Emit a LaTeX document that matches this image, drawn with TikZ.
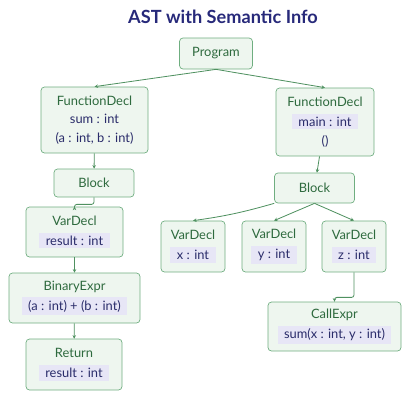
\documentclass[tikz,border=0pt]{standalone}
\usepackage{fontspec}
\setmainfont{Lato}
\usepackage{xcolor}
\usepackage{tikz}
\usetikzlibrary{positioning,arrows.meta}

\definecolor{boxfill}{HTML}{EEF6EF}
\definecolor{boxline}{HTML}{6FAE80}
\definecolor{nodetext}{HTML}{2E6A3E}
\definecolor{typetext}{HTML}{2A2C6A}
\definecolor{typebg}{HTML}{E7E6F6}
\definecolor{edgecol}{HTML}{4F9160}
\definecolor{titlecol}{HTML}{27297A}

\newcommand{\ty}[1]{{\setlength{\fboxsep}{2.5pt}\colorbox{typebg}{\hspace{3pt}\color{typetext}#1\hspace{3pt}}}}
\newcommand{\tn}[1]{{\color{typetext}#1}}

\begin{document}
\begin{tikzpicture}[x=0.03cm, y=-0.03cm,
    ast/.style={draw=boxline, fill=boxfill, rounded corners=3pt, line width=0.6pt,
        align=center, inner sep=0pt, font=\fontsize{11}{13}\selectfont, text=nodetext},
    edge/.style={draw=edgecol, line width=0.7pt, -{Stealth[length=3pt,width=3pt]}}]
    \useasboundingbox (0,0) rectangle (420,406);

    \node (title) at (223,17) [font=\bfseries\fontsize{15.5}{18}\selectfont, text=titlecol] {AST with Semantic Info};

    % left function
    \node (prog) at (216,53.5) [ast, minimum width=73*0.03cm, minimum height=31*0.03cm] {Program};
    \node (fdl) at (94.5,120) [ast, minimum width=107*0.03cm, minimum height=66*0.03cm]
        {FunctionDecl\\[3pt] \tn{sum : int}\\[3pt] \tn{(a : int, b : int)}};
    \node (blkl) at (94,183) [ast, minimum width=80*0.03cm, minimum height=28*0.03cm] {Block};
    \node (vres) at (74.5,232) [ast, minimum width=97*0.03cm, minimum height=50*0.03cm]
        {VarDecl\\[4pt] \ty{result : int}};
    \node (bin) at (74.5,298) [ast, minimum width=131*0.03cm, minimum height=50*0.03cm]
        {BinaryExpr\\[4pt] \ty{(a : int) + (b : int)}};
    \node (ret) at (74,364.5) [ast, minimum width=96*0.03cm, minimum height=51*0.03cm]
        {Return\\[4pt] \ty{result : int}};

    % main function
    \node (fdr) at (325,122) [ast, minimum width=98*0.03cm, minimum height=68*0.03cm]
        {FunctionDecl\\[4pt] \ty{main : int}\\[3pt] \tn{()}};
    \node (blkr) at (314.5,188) [ast, minimum width=80*0.03cm, minimum height=30*0.03cm] {Block};
    \node (vx) at (193,246.5) [ast, minimum width=64*0.03cm, minimum height=51*0.03cm]
        {VarDecl\\[4pt] \ty{x : int}};
    \node (vy) at (274,246.5) [ast, minimum width=64*0.03cm, minimum height=51*0.03cm]
        {VarDecl\\[4pt] \ty{y : int}};
    \node (vz) at (354,246.5) [ast, minimum width=64*0.03cm, minimum height=51*0.03cm]
        {VarDecl\\[4pt] \ty{z : int}};
    \node (call) at (334.5,326.5) [ast, minimum width=133*0.03cm, minimum height=49*0.03cm]
        {CallExpr\\[4pt] \ty{sum(x : int, y : int)}};

    \draw[edge] (prog.south) -- (fdl.north);
    \draw[edge] (prog.south) -- (fdr.north);
    \draw[edge] (fdl) -- (blkl);
    \draw[edge, rounded corners=2pt] (blkl.south) -- ++(0,7) -| (vres.north);
    \draw[edge] (vres) -- (bin);
    \draw[edge] (bin) -- (ret);
    \draw[edge] (fdr) -- (blkr);
    \draw[edge] (blkr.south west) to[bend left=4] (vx.north);
    \draw[edge] (blkr.south) -- (vy.north);
    \draw[edge] (blkr.south) -- (vz.north);
    \draw[edge, rounded corners=2pt] (vz.south) -- ++(0,25) -| (call.north);
\end{tikzpicture}
\end{document}
